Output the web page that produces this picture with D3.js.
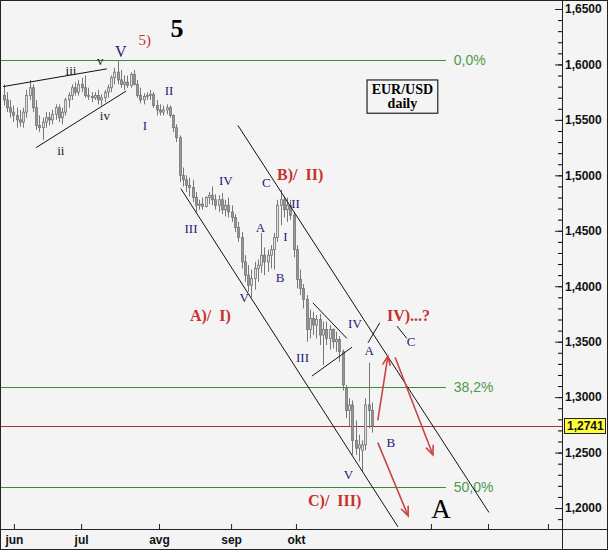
<!DOCTYPE html>
<html>
<head>
<meta charset="utf-8">
<script src="https://cdn.jsdelivr.net/npm/d3@7"></script>
<style>
  body { margin: 0; background: #fff; }
  svg { display: block; font-family: "Liberation Sans", Arial, sans-serif; }
</style>
</head>
<body>
<svg id="chart" width="609" height="553"></svg>
<script>
// EUR/USD daily, open/high/low/close
const candles = [
  [1.572,1.582,1.563,1.568],[1.568,1.575,1.557,1.561],[1.561,1.568,1.552,1.557],[1.557,1.563,1.548,1.554],
  [1.554,1.561,1.543,1.550],[1.550,1.559,1.544,1.548],[1.548,1.561,1.543,1.557],[1.557,1.577,1.552,1.572],
  [1.572,1.586,1.568,1.579],[1.579,1.582,1.557,1.561],[1.561,1.568,1.541,1.545],[1.545,1.554,1.539,1.543],
  [1.543,1.552,1.532,1.548],[1.548,1.557,1.543,1.552],[1.552,1.557,1.545,1.550],[1.550,1.559,1.546,1.555],
  [1.555,1.564,1.550,1.561],[1.561,1.564,1.548,1.552],[1.552,1.561,1.546,1.557],[1.557,1.570,1.554,1.568],
  [1.568,1.575,1.561,1.572],[1.572,1.582,1.568,1.579],[1.579,1.584,1.572,1.575],[1.575,1.586,1.572,1.582],
  [1.582,1.588,1.575,1.579],[1.579,1.590,1.570,1.572],[1.572,1.579,1.568,1.571],[1.571,1.575,1.566,1.570],
  [1.570,1.575,1.568,1.572],[1.572,1.577,1.564,1.568],[1.568,1.573,1.563,1.570],[1.570,1.577,1.566,1.575],
  [1.575,1.582,1.570,1.579],[1.579,1.590,1.575,1.588],[1.588,1.597,1.582,1.593],[1.593,1.604,1.582,1.586],
  [1.586,1.595,1.579,1.582],[1.582,1.590,1.577,1.584],[1.584,1.590,1.579,1.581],[1.581,1.593,1.579,1.591],
  [1.591,1.595,1.581,1.582],[1.582,1.586,1.570,1.572],[1.572,1.579,1.565,1.568],[1.568,1.574,1.564,1.571],
  [1.571,1.575,1.568,1.572],[1.572,1.577,1.568,1.573],[1.573,1.575,1.561,1.563],[1.563,1.568,1.554,1.559],
  [1.559,1.564,1.554,1.557],[1.557,1.563,1.554,1.559],[1.559,1.564,1.555,1.561],[1.561,1.563,1.552,1.554],
  [1.554,1.555,1.539,1.543],[1.543,1.546,1.530,1.534],[1.534,1.536,1.494,1.500],[1.500,1.507,1.490,1.496],
  [1.496,1.500,1.485,1.491],[1.491,1.498,1.481,1.489],[1.489,1.496,1.476,1.480],[1.480,1.485,1.467,1.473],
  [1.473,1.478,1.469,1.474],[1.474,1.480,1.469,1.472],[1.472,1.481,1.471,1.480],[1.480,1.485,1.474,1.482],
  [1.482,1.490,1.473,1.478],[1.478,1.483,1.469,1.473],[1.473,1.482,1.467,1.478],[1.478,1.484,1.465,1.469],
  [1.469,1.478,1.463,1.473],[1.473,1.480,1.462,1.467],[1.467,1.473,1.458,1.462],[1.462,1.465,1.449,1.453],
  [1.453,1.458,1.440,1.444],[1.444,1.449,1.416,1.422],[1.422,1.428,1.404,1.410],[1.410,1.419,1.395,1.401],
  [1.401,1.415,1.390,1.407],[1.407,1.422,1.397,1.416],[1.416,1.424,1.404,1.419],[1.419,1.448,1.412,1.428],
  [1.428,1.435,1.410,1.422],[1.422,1.433,1.413,1.428],[1.428,1.437,1.416,1.433],[1.433,1.448,1.415,1.444],
  [1.444,1.478,1.440,1.473],[1.473,1.487,1.455,1.478],[1.478,1.481,1.462,1.469],[1.469,1.480,1.458,1.473],
  [1.473,1.478,1.460,1.464],[1.464,1.467,1.426,1.433],[1.433,1.437,1.398,1.406],[1.406,1.415,1.392,1.398],
  [1.398,1.402,1.380,1.388],[1.388,1.392,1.350,1.361],[1.361,1.379,1.353,1.371],[1.371,1.377,1.356,1.365],
  [1.365,1.374,1.353,1.370],[1.370,1.375,1.347,1.356],[1.356,1.368,1.329,1.361],[1.361,1.368,1.347,1.353],
  [1.353,1.365,1.343,1.361],[1.361,1.362,1.344,1.350],[1.350,1.359,1.341,1.352],[1.352,1.355,1.332,1.341],
  [1.341,1.343,1.306,1.311],[1.308,1.311,1.281,1.288],[1.288,1.299,1.274,1.293],[1.293,1.297,1.248,1.261],
  [1.261,1.279,1.248,1.254],[1.254,1.266,1.242,1.257],[1.252,1.261,1.233,1.257],[1.257,1.299,1.252,1.293],
  [1.293,1.331,1.272,1.288],[1.288,1.295,1.268,1.274]
];

const lastPrice = 1.2741;
const priceLabels = [1.20, 1.25, 1.30, 1.35, 1.40, 1.45, 1.50, 1.55, 1.60, 1.65];
const monthTicks = [3.2, 23.8, 47.7, 69.8, 89.7, 131.1, 148.6, 167.0];
const monthLabels = ["jun", "jul", "avg", "sep", "okt", "", "", ""];
const fibLevels = [1.604, 1.3094, 1.2192];
const fibLabels = ["0,0%", "38,2%", "50,0%"];

// trend / channel lines, [day, price] pairs
const trendLines = [
  [[-0.15, 1.580], [31.7, 1.596]],
  [[10.0, 1.525], [37.6, 1.576]],
  [[54.4, 1.488], [121.0, 1.183]],
  [[71.9, 1.545], [148.9, 1.196]],
  [[94.9, 1.385], [105.3, 1.353]],
  [[94.6, 1.319], [106.9, 1.345]],
  [[111.8, 1.349], [115.4, 1.367]],
  [[120.7, 1.364], [123.7, 1.353]]
];
const arrows = [
  [[114.8, 1.279], [117.9, 1.337]],
  [[120.1, 1.336], [131.7, 1.248]],
  [[114.8, 1.259], [124.1, 1.193]]
];

// wave labels: text, day, price, size
const blueLabels = [
  ["V", 36.0, 1.6067, 16], ["I", 43.4, 1.5409, 13], ["II", 50.8, 1.5724, 13],
  ["III", 57.5, 1.448, 13], ["IV", 68.2, 1.4913, 13], ["V", 73.8, 1.3858, 13],
  ["A", 78.8, 1.4489, 13], ["B", 84.8, 1.4038, 13], ["C", 80.6, 1.4895, 13],
  ["I", 86.5, 1.4408, 13], ["II", 89.6, 1.4706, 13], ["III", 91.7, 1.3317, 13],
  ["IV", 107.8, 1.3623, 13], ["A", 112.2, 1.338, 13], ["C", 125.0, 1.3461, 13],
  ["B", 118.8, 1.255, 13], ["V", 105.8, 1.2262, 13]
];
const smallLabels = [
  ["v", 29.7, 1.5995], ["iii", 20.7, 1.5905], ["iv", 31.1, 1.5499], ["ii", 17.6, 1.5183]
];
const redLabels = [
  ["5)", 41.4, 1.6175, 15, "normal"],
  ["B)/  II)", 83.9, 1.4958, 16, "bold"],
  ["A)/  I)", 57.2, 1.3687, 16, "bold"],
  ["IV)...?", 117.6, 1.3687, 16, "bold"],
  ["C)/  III)", 93.4, 1.2018, 16, "bold"]
];

const svg = d3.select("#chart");
const W = 609, H = 553;
const plot = { left: 1, top: 1, right: 562, bottom: 529 };

const x = d3.scaleLinear().domain([0, 171.3]).range([3.5, 562]);
const y = d3.scaleLinear().domain([1.182, 1.6563]).range([528, 2]);
const locale = d3.formatLocale({ decimal: ",", thousands: ".", grouping: [3], currency: ["", ""] });
const fmt = locale.format(".4f");

// background
svg.append("rect").attr("width", W).attr("height", H).attr("fill", "#fff");
svg.append("rect").attr("x", 0.5).attr("y", 0.5).attr("width", 607).attr("height", 549)
  .attr("fill", "#f4f4f4").attr("stroke", "#222");

svg.append("clipPath").attr("id", "clip").append("rect")
  .attr("x", plot.left).attr("y", plot.top)
  .attr("width", plot.right - plot.left).attr("height", plot.bottom - plot.top);
const g = svg.append("g").attr("clip-path", "url(#clip)");

// fibonacci levels
fibLevels.forEach((v, i) => {
  g.append("line").attr("x1", plot.left).attr("x2", x(135.7))
    .attr("y1", Math.round(y(v)) + 0.5).attr("y2", Math.round(y(v)) + 0.5)
    .attr("stroke", "#3a8a3a").attr("stroke-width", 1);
  g.append("text").attr("x", x(138.1)).attr("y", y(v) + 5)
    .attr("fill", "#4a9a4a").attr("font-size", 14).text(fibLabels[i]);
});

// last price line
g.append("line").attr("x1", plot.left).attr("x2", plot.right)
  .attr("y1", Math.round(y(lastPrice)) + 0.5).attr("y2", Math.round(y(lastPrice)) + 0.5)
  .attr("stroke", "#a83232");

// candles
const bars = g.append("g");
candles.forEach((d, i) => {
  const [o, h, l, c] = d;
  const cx = Math.round(x(i)) + 0.5;
  bars.append("line").attr("x1", cx).attr("x2", cx).attr("y1", y(h)).attr("y2", y(l))
    .attr("stroke", "#777");
  const top = y(Math.max(o, c)), bot = y(Math.min(o, c));
  bars.append("rect").attr("x", cx - 1).attr("y", top).attr("width", 2)
    .attr("height", Math.max(1, bot - top))
    .attr("fill", c >= o ? "#e0e0e0" : "#959595").attr("stroke", "#777").attr("stroke-width", 0.8);
});

// trend lines
const line = d3.line().x(d => x(d[0])).y(d => y(d[1]));
g.selectAll(".trend").data(trendLines).join("path").attr("class", "trend")
  .attr("d", line).attr("fill", "none").attr("stroke", "#111").attr("stroke-width", 1);

// red arrows
arrows.forEach(a => {
  const x0 = x(a[0][0]), y0 = y(a[0][1]), x1 = x(a[1][0]), y1 = y(a[1][1]);
  const ang = Math.atan2(y1 - y0, x1 - x0);
  const head = [ang + 0.4, ang - 0.4].map(t => [x1 - 10 * Math.cos(t), y1 - 10 * Math.sin(t)]);
  g.append("line").attr("x1", x0).attr("y1", y0).attr("x2", x1).attr("y2", y1)
    .attr("stroke", "#c94545").attr("stroke-width", 1.6);
  g.append("path").attr("d", `M${head[0]}L${x1},${y1}L${head[1]}`)
    .attr("fill", "none").attr("stroke", "#c94545").attr("stroke-width", 1.6);
});

// wave labels
const serif = '"Liberation Serif", "Times New Roman", serif';
g.selectAll(".blue").data(blueLabels).join("text").attr("class", "blue")
  .attr("x", d => x(d[1])).attr("y", d => y(d[2])).attr("text-anchor", "middle")
  .attr("font-family", serif).attr("font-size", d => d[3]).attr("fill", "#20207a").text(d => d[0]);
g.selectAll(".small").data(smallLabels).join("text").attr("class", "small")
  .attr("x", d => x(d[1])).attr("y", d => y(d[2])).attr("text-anchor", "middle")
  .attr("font-family", serif).attr("font-size", 13).attr("fill", "#222").text(d => d[0]);
g.selectAll(".red").data(redLabels).join("text").attr("class", "red")
  .attr("x", d => x(d[1])).attr("y", d => y(d[2]))
  .style("white-space", "pre")
  .attr("font-family", serif).attr("font-size", d => d[3]).attr("font-weight", d => d[4])
  .attr("fill", "#c8302c").text(d => d[0]);

g.append("text").attr("x", x(53.2)).attr("y", y(1.6247)).attr("text-anchor", "middle")
  .attr("font-family", serif).attr("font-size", 26).attr("font-weight", "bold").text("5");
g.append("text").attr("x", x(134.2)).attr("y", y(1.191)).attr("text-anchor", "middle")
  .attr("font-family", serif).attr("font-size", 27).text("A");

// EUR/USD box
g.append("rect").attr("x", x(111.5)).attr("y", y(1.586))
  .attr("width", x(133.2) - x(111.5)).attr("height", y(1.556) - y(1.586))
  .attr("fill", "none").attr("stroke", "#222").attr("stroke-width", 1.2);
g.append("text").attr("x", x(122.35)).attr("y", y(1.5735)).attr("text-anchor", "middle")
  .attr("font-family", serif).attr("font-weight", "bold").attr("font-size", 14).text("EUR/USD");
g.append("text").attr("x", x(122.35)).attr("y", y(1.5608)).attr("text-anchor", "middle")
  .attr("font-family", serif).attr("font-weight", "bold").attr("font-size", 14).text("daily");

// right price axis
const minor = d3.range(119, 166).map(v => v / 100);
svg.append("g").attr("transform", `translate(${plot.right},0)`)
  .call(d3.axisRight(y).tickValues(minor).tickSize(-4).tickFormat(""))
  .call(a => a.select(".domain").remove());
const yAx = svg.append("g").attr("transform", `translate(${plot.right},0)`)
  .call(d3.axisRight(y).tickValues(priceLabels).tickSize(-7).tickPadding(3).tickFormat(fmt));
yAx.select(".domain").remove();
yAx.selectAll("text").attr("font-size", 12).attr("font-weight", "bold").attr("fill", "#111")
  .attr("font-family", '"Liberation Sans", Arial, sans-serif');
yAx.selectAll("line").attr("stroke", "#222");

// bottom time axis
const xAx = svg.append("g").attr("transform", `translate(0,${plot.bottom})`)
  .call(d3.axisBottom(x).tickValues(monthTicks).tickSize(-5).tickPadding(6)
    .tickFormat((d, i) => monthLabels[i]));
xAx.select(".domain").remove();
xAx.selectAll("text").attr("font-size", 12).attr("font-weight", "bold").attr("fill", "#111")
  .attr("font-family", '"Liberation Sans", Arial, sans-serif');
xAx.selectAll("line").attr("stroke", "#222");

// frame lines of the panels
svg.append("line").attr("x1", 0).attr("x2", 608).attr("y1", plot.bottom + 0.5).attr("y2", plot.bottom + 0.5)
  .attr("stroke", "#222");
svg.append("line").attr("x1", plot.right + 0.5).attr("x2", plot.right + 0.5).attr("y1", 0).attr("y2", 550)
  .attr("stroke", "#222");

// last price tag
const ty = y(lastPrice);
svg.append("rect").attr("x", 564.5).attr("y", Math.round(ty) - 7.5).attr("width", 41).attr("height", 15)
  .attr("fill", "#ffff3a").attr("stroke", "#222");
svg.append("text").attr("x", 567).attr("y", ty + 4.5).attr("font-size", 12).attr("font-weight", "bold")
  .attr("fill", "#111").text(fmt(lastPrice));
</script>
</body>
</html>
